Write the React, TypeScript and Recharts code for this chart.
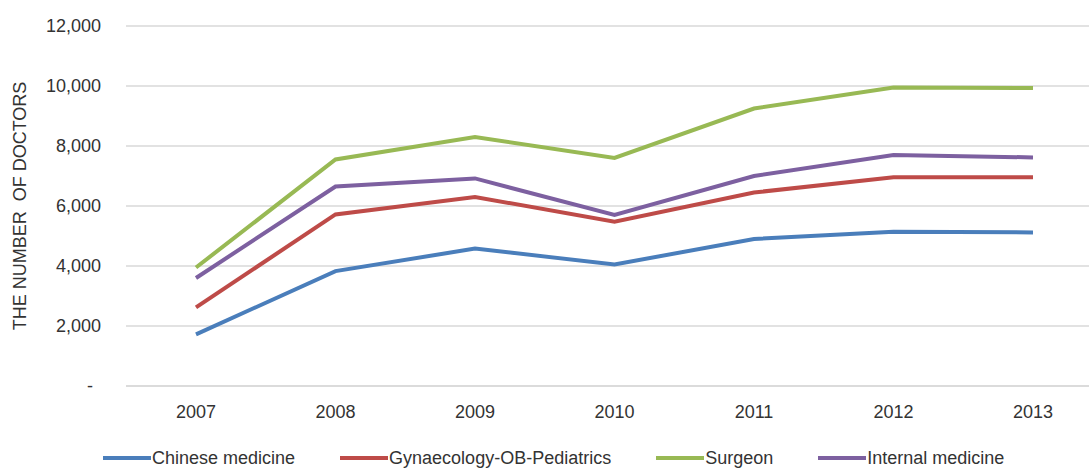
import { LineChart, Line, XAxis, YAxis, CartesianGrid, Legend } from 'recharts';

const years = ['2007', '2008', '2009', '2010', '2011', '2012', '2013'];
const chineseMedicine = [1720, 3830, 4580, 4050, 4900, 5140, 5120];
const gynaecology = [2620, 5720, 6300, 5480, 6450, 6960, 6960];
const surgeon = [3950, 7550, 8300, 7600, 9250, 9950, 9930];
const internalMedicine = [3600, 6650, 6920, 5700, 7000, 7700, 7620];
const yTicks = [0, 2000, 4000, 6000, 8000, 10000, 12000];

const series = [
    { key: 'chinese', name: 'Chinese medicine', color: '#4A7EBB', values: chineseMedicine },
    { key: 'gyn', name: 'Gynaecology-OB-Pediatrics', color: '#BE4B48', values: gynaecology },
    { key: 'surgeon', name: 'Surgeon', color: '#98B954', values: surgeon },
    { key: 'internal', name: 'Internal medicine', color: '#7D60A0', values: internalMedicine },
];

const data = years.map((year, i) => {
    const row: any = { year };
    series.forEach((s) => { row[s.key] = s.values[i]; });
    return row;
});

const font = '"Liberation Sans", Arial, sans-serif';
const textColor = '#333333';

function LegendContent() {
    return (
        <div style={{ height: 30, paddingTop: 10, boxSizing: 'border-box', display: 'flex', alignItems: 'center', paddingLeft: 103, fontFamily: font, fontSize: 18, color: textColor }}>
            {series.map((s) => (
                <div key={s.key} style={{ display: 'flex', alignItems: 'center', marginRight: 45 }}>
                    <span style={{ display: 'inline-block', width: 48, height: 4, background: s.color, marginRight: 1 }} />
                    <span>{s.name}</span>
                </div>
            ))}
        </div>
    );
}

function YLabel(props: any) {
    const vb = props.viewBox;
    const cx = 20;
    const cy = vb.y + vb.height / 2;
    return (
        <text x={cx} y={cy} transform={`rotate(-90 ${cx} ${cy})`} textAnchor="middle" dominantBaseline="central"
            style={{ fontFamily: font, fontSize: 18, fill: textColor, whiteSpace: 'pre' }}>
            THE NUMBER  OF DOCTORS
        </text>
    );
}

function YTick(props: any) {
    const { x, y, payload } = props;
    const v = payload.value as number;
    return (
        <text x={v === 0 ? x - 8 : x} y={y} dy="0.35em" textAnchor="end" fill={textColor}
            style={{ fontFamily: font, fontSize: 18 }}>
            {v === 0 ? '-' : v.toLocaleString('en-US')}
        </text>
    );
}

export default function App() {
    return (
        <div style={{ position: 'absolute', left: 0, top: 0, width: 1089, height: 468, overflow: 'hidden', background: '#fff' }}>
            <LineChart width={1110} height={468} data={data} margin={{ top: 26, right: 7, left: 0, bottom: 0 }}>
                <CartesianGrid vertical={false} stroke="#d9d9d9" strokeWidth={1.5} />
                <XAxis
                    dataKey="year"
                    height={52}
                    padding={{ left: 70, right: 70 }}
                    axisLine={{ stroke: '#d9d9d9', strokeWidth: 1.5 }}
                    tickLine={false}
                    tickMargin={13}
                    tick={{ fill: textColor, fontSize: 18, fontFamily: font }}
                />
                <YAxis
                    width={126}
                    domain={[0, 12000]}
                    ticks={yTicks}
                    interval={0}
                    axisLine={false}
                    tickLine={false}
                    tickMargin={19}
                    tick={<YTick />}
                    label={<YLabel />}
                />
                <Legend verticalAlign="bottom" height={30} content={<LegendContent />} />
                {series.map((s) => (
                    <Line key={s.key} type="linear" dataKey={s.key} name={s.name} stroke={s.color} strokeWidth={4} dot={false} isAnimationActive={false} />
                ))}
            </LineChart>
        </div>
    );
}
